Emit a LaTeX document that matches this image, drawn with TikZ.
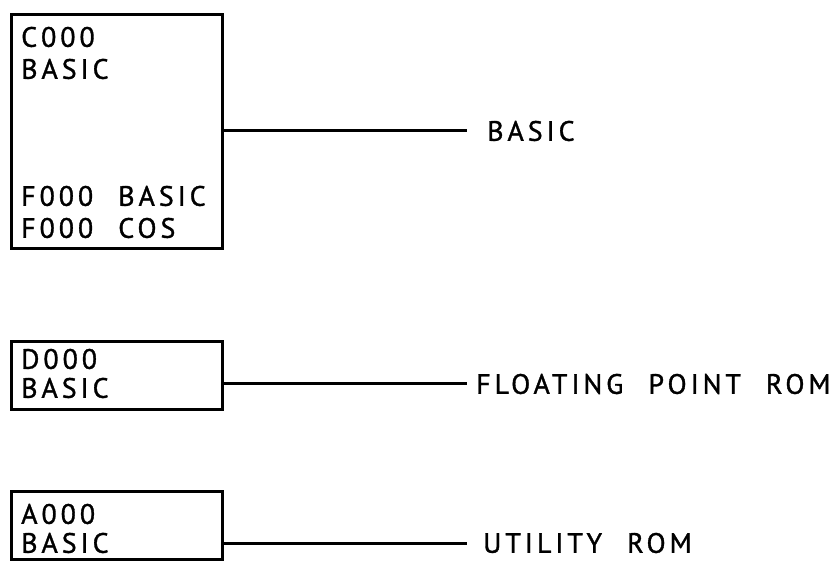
\documentclass[tikz,border=0pt]{standalone}
\usepackage{fontspec}
\setmainfont[LetterSpace=14,WordSpace=2.2,FakeBold=1.2]{PT Sans}
\begin{document}
\begin{tikzpicture}[x=1pt,y=-1pt,
  box/.style={draw,line width=3pt,minimum width=211pt,anchor=north west,inner sep=0pt},
  txt/.style={anchor=west,inner sep=0pt,font=\fontsize{28}{30}\selectfont},
  lbl/.style={anchor=west,inner xsep=18pt,inner ysep=0pt,font=\fontsize{28}{30}\selectfont},
  conn/.style={line width=3pt}]
\useasboundingbox (0,0) rectangle (839,564);
% top box
\node[box,minimum height=234pt] (b1) at (10,13) {};
\node[txt] (t1a) at (21,37) {C000};
\node[txt] (t1b) at (21,69) {BASIC};
\node[txt] (t1c) at (21,196) {F000 BASIC};
\node[txt] (t1d) at (21,228) {F000 COS};
\node[lbl,inner xsep=20pt] (l1) at (467,131) {BASIC};
\draw[conn] (l1.west -| b1.east) -- (l1.west);
% middle box
\node[box,minimum height=68pt] (b2) at (10,340) {};
\node[txt] (t2a) at (21,359) {D000};
\node[txt] (t2b) at (21,388) {BASIC};
\node[lbl,inner xsep=9pt] (l2) at (467,384) {FLOATING POINT ROM};
\draw[conn] (l2.west -| b2.east) -- (l2.west);
% bottom box
\node[box,minimum height=68pt] (b3) at (10,490) {};
\node[txt] (t3a) at (21,514) {A000};
\node[txt] (t3b) at (21,543) {BASIC};
\node[lbl,inner xsep=16pt] (l3) at (467,543) {UTILITY ROM};
\draw[conn] (l3.west -| b3.east) -- (l3.west);
\end{tikzpicture}
\end{document}
